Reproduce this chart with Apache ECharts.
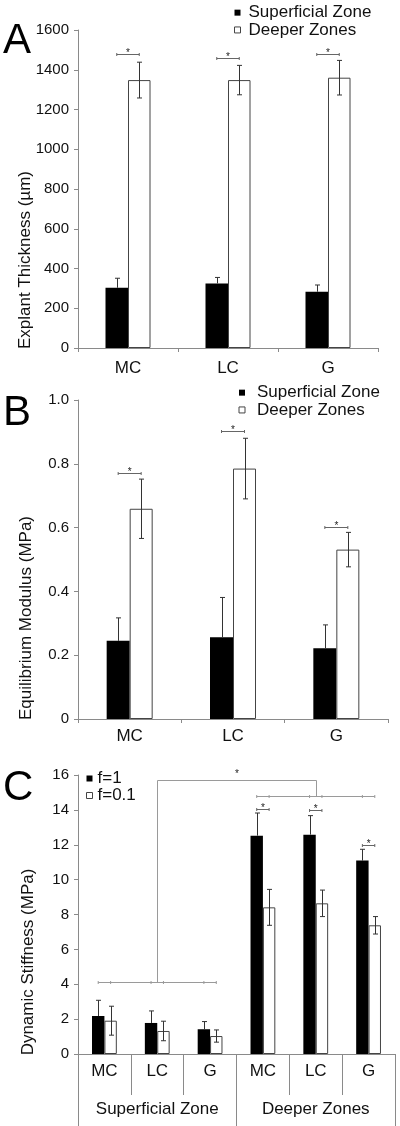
<!DOCTYPE html>
<html>
<head>
<meta charset="utf-8">
<script src="https://cdn.jsdelivr.net/npm/echarts@6/dist/echarts.min.js"></script>
<style>
html,body{margin:0;padding:0;background:#fff;}
#chart{width:400px;height:1126px;}
</style>
</head>
<body>
<div id="chart"></div>
<script>
// ---------- DATA ----------
const categoriesAB = ['MC', 'LC', 'G'];
// Panel A: Explant thickness (µm)
const thickSup = [303, 325, 283];
const thickSupErr = [48, 30, 34];
const thickDeep = [1348, 1348, 1360];
const thickDeepErr = [90, 74, 87];
const thickSig = [1477, 1459, 1479];
// Panel B: Equilibrium modulus (MPa)
const modSup = [0.245, 0.256, 0.222];
const modSupErr = [0.072, 0.125, 0.073];
const modDeep = [0.659, 0.785, 0.531];
const modDeepErr = [0.093, 0.095, 0.054];
const modSig = [0.770, 0.903, 0.603];
// Panel C: Dynamic stiffness (MPa)
const categoriesC = ['MC', 'LC', 'G', 'MC', 'LC', 'G'];
const groupsC = ['Superficial Zone', 'Deeper Zones'];
const stiffF1 = [2.18, 1.78, 1.42, 12.52, 12.58, 11.09];
const stiffF1Err = [0.90, 0.69, 0.44, 1.30, 1.09, 0.65];
const stiffF01 = [1.91, 1.32, 1.03, 8.41, 8.64, 7.38];
const stiffF01Err = [0.83, 0.56, 0.35, 1.03, 0.76, 0.50];
const stiffSig = [null, null, null, 14.05, 13.97, 11.99];
const groupBracketLevels = [4.11, 15.71, 14.8]; // superficial line, top line, deeper line

// ---------- STYLE ----------
const FONT = '"Liberation Sans", Arial, Helvetica, sans-serif';
const AXIS_COLOR = '#8a8a8a';
const TEXT_COLOR = '#111';
const BW = {A: 22.5, B: 23, C: 12.4};

function errData(vals, errs, side, full) {
  return vals.map((v, i) => [i, v, errs[i], side, full]);
}
function sigData(levels) {
  return levels.map((v, i) => v == null ? null : [i, v]).filter(d => d);
}
function line(x1, y1, x2, y2, color) {
  return {type: 'line', shape: {x1, y1, x2, y2}, style: {stroke: color, lineWidth: 1}, silent: true};
}
function errRender(barW) {
  return function (params, api) {
    const cat = api.value(0), v = api.value(1), e = api.value(2), side = api.value(3), full = api.value(4);
    const base = api.coord([cat, v]);
    const x = Math.round(base[0] + side * barW / 2) + 0.5;
    const yTop = api.coord([cat, v + e])[1];
    const yBot = full ? api.coord([cat, v - e])[1] : base[1];
    const cap = 2.5, c = '#333';
    const ch = [line(x, yTop, x, yBot, c), line(x - cap, yTop, x + cap, yTop, c)];
    if (full) ch.push(line(x - cap, yBot, x + cap, yBot, c));
    return {type: 'group', children: ch};
  };
}
function sigRender(barW) {
  return function (params, api) {
    const cat = api.value(0), v = api.value(1);
    const p = api.coord([cat, v]);
    const x1 = p[0] - barW / 2, x2 = p[0] + barW / 2, y = Math.round(p[1]) + 0.5;
    const c = '#666';
    return {type: 'group', children: [
      line(x1, y, x2, y, c), line(x1, y - 1.5, x1, y + 1.5, c), line(x2, y - 1.5, x2, y + 1.5, c),
      {type: 'text', x: p[0], y: y + 4, silent: true,
       style: {text: '*', font: '10px ' + FONT, fill: '#222', align: 'center', verticalAlign: 'bottom'}}
    ]};
  };
}
function groupBracketRender(params, api) {
  const bw = BW.C, c = '#9a9a9a';
  const ySup = Math.round(api.coord([0, api.value(1)])[1]) + 0.5;
  const yTop = Math.round(api.coord([0, api.value(2)])[1]) + 0.5;
  const yDeep = Math.round(api.coord([0, api.value(3)])[1]) + 0.5;
  const cx = i => api.coord([i, 0])[0];
  const supL = cx(0) - bw / 2, supR = cx(2) + bw / 2, supMid = Math.round((supL + supR) / 2) + 0.5;
  const dL = cx(3) - bw / 2, dR = cx(5) + bw / 2, dMid = Math.round((dL + dR) / 2) + 0.5;
  const ch = [
    line(supL, ySup, supR, ySup, c), line(supMid, ySup, supMid, yTop, c),
    line(supMid, yTop, dMid, yTop, c), line(dMid, yTop, dMid, yDeep, c),
    line(dL, yDeep, dR, yDeep, c)
  ];
  for (let i = 0; i < 6; i++) {
    const y = i < 3 ? ySup : yDeep;
    [cx(i) - bw / 2, cx(i) + bw / 2].forEach(x => ch.push(line(x, y - 1.5, x, y + 1.5, c)));
  }
  ch.push({type: 'text', x: (supMid + dMid) / 2, y: yTop - 1, silent: true,
    style: {text: '*', font: '10px ' + FONT, fill: '#222', align: 'center', verticalAlign: 'bottom'}});
  return {type: 'group', children: ch};
}

const baseX = (grid, data, margin) => ({
  gridIndex: grid, type: 'category', data: data,
  axisLine: {lineStyle: {color: AXIS_COLOR}},
  axisTick: {show: true, length: 4, interval: 0, lineStyle: {color: AXIS_COLOR}},
  axisLabel: {fontSize: 17, fontFamily: FONT, color: TEXT_COLOR, margin: margin, interval: 0},
  splitLine: {show: false}
});
const baseY = (grid, max, interval, fmt) => ({
  gridIndex: grid, type: 'value', min: 0, max: max, interval: interval,
  axisLine: {show: true, lineStyle: {color: AXIS_COLOR}},
  axisTick: {show: true, length: 4, lineStyle: {color: AXIS_COLOR}},
  axisLabel: {fontSize: 15, fontFamily: FONT, color: TEXT_COLOR, margin: 9, formatter: fmt},
  splitLine: {show: false}
});

const whiteBar = {color: '#fff', borderColor: '#444', borderWidth: 1};
const blackBar = {color: '#000'};
const legendText = (pad, lh) => ({fontSize: 17, fontFamily: FONT, color: TEXT_COLOR, lineHeight: lh, padding: [0, 0, 0, pad]});
const legendBase = {orient: 'vertical', padding: 0, itemWidth: 6, itemHeight: 6, itemGap: 0, selectedMode: false, icon: 'rect'};

const option = {
  animation: false,
  backgroundColor: '#fff',
  grid: [
    {left: 78, top: 30, width: 300, height: 318},
    {left: 78, top: 400, width: 310, height: 319},
    {left: 78, top: 775, width: 317, height: 279}
  ],
  legend: [
    Object.assign({}, legendBase, {left: 234, top: 4, textStyle: legendText(3, 17.3),
      data: [{name: 'Superficial Zone', itemStyle: blackBar}, {name: 'Deeper Zones', itemStyle: whiteBar}]}),
    Object.assign({}, legendBase, {left: 238.5, top: 384, textStyle: legendText(7, 17.3),
      data: [{name: 'Superficial Zone', itemStyle: blackBar}, {name: 'Deeper Zones', itemStyle: whiteBar}]}),
    Object.assign({}, legendBase, {left: 86, top: 770, textStyle: legendText(0, 16.3),
      data: [{name: 'f=1', itemStyle: blackBar}, {name: 'f=0.1', itemStyle: whiteBar}]})
  ],
  xAxis: [
    baseX(0, categoriesAB, 11.5),
    baseX(1, categoriesAB, 9),
    Object.assign(baseX(2, categoriesC, 9), {axisTick: {show: true, length: 41, interval: 0, lineStyle: {color: AXIS_COLOR}}}),
    {gridIndex: 2, type: 'category', data: groupsC, position: 'bottom', offset: 41,
     axisLine: {show: false},
     axisTick: {show: true, length: 31, interval: 0, lineStyle: {color: AXIS_COLOR}},
     axisLabel: {fontSize: 17, fontFamily: FONT, color: TEXT_COLOR, margin: 5.5, interval: 0},
     splitLine: {show: false}}
  ],
  yAxis: [
    baseY(0, 1600, 200, v => String(v)),
    baseY(1, 1.0, 0.2, v => v === 0 ? '0' : v.toFixed(1)),
    baseY(2, 16, 2, v => String(v))
  ],
  graphic: [
    {type: 'text', left: 3, top: 20, style: {text: 'A', font: '42px ' + FONT, fill: '#000'}},
    {type: 'text', left: 3, top: 392, style: {text: 'B', font: '42px ' + FONT, fill: '#000'}},
    {type: 'text', left: 3, top: 767, style: {text: 'C', font: '42px ' + FONT, fill: '#000'}},
    {type: 'text', x: 25, y: 260, rotation: Math.PI / 2,
     style: {text: 'Explant Thickness (µm)', font: '17px ' + FONT, fill: TEXT_COLOR, align: 'center', verticalAlign: 'middle'}},
    {type: 'text', x: 26, y: 618, rotation: Math.PI / 2,
     style: {text: 'Equilibrium Modulus (MPa)', font: '17px ' + FONT, fill: TEXT_COLOR, align: 'center', verticalAlign: 'middle'}},
    {type: 'text', x: 28, y: 962, rotation: Math.PI / 2,
     style: {text: 'Dynamic Stiffness (MPa)', font: '17px ' + FONT, fill: TEXT_COLOR, align: 'center', verticalAlign: 'middle'}}
  ],
  series: [
    // Panel A
    {name: 'Superficial Zone', type: 'bar', xAxisIndex: 0, yAxisIndex: 0, data: thickSup, barWidth: BW.A, barGap: '0%', itemStyle: blackBar},
    {name: 'Deeper Zones', type: 'bar', xAxisIndex: 0, yAxisIndex: 0, data: thickDeep, barWidth: BW.A, barGap: '0%', itemStyle: whiteBar},
    {name: 'errA1', type: 'custom', xAxisIndex: 0, yAxisIndex: 0, renderItem: errRender(BW.A), data: errData(thickSup, thickSupErr, -1, 0), z: 5, clip: false},
    {name: 'errA2', type: 'custom', xAxisIndex: 0, yAxisIndex: 0, renderItem: errRender(BW.A), data: errData(thickDeep, thickDeepErr, 1, 1), z: 5, clip: false},
    {name: 'sigA', type: 'custom', xAxisIndex: 0, yAxisIndex: 0, renderItem: sigRender(BW.A), data: sigData(thickSig), z: 5, clip: false},
    // Panel B
    {name: 'Superficial Zone', type: 'bar', xAxisIndex: 1, yAxisIndex: 1, data: modSup, barWidth: BW.B, barGap: '0%', itemStyle: blackBar},
    {name: 'Deeper Zones', type: 'bar', xAxisIndex: 1, yAxisIndex: 1, data: modDeep, barWidth: BW.B, barGap: '0%', itemStyle: whiteBar},
    {name: 'errB1', type: 'custom', xAxisIndex: 1, yAxisIndex: 1, renderItem: errRender(BW.B), data: errData(modSup, modSupErr, -1, 0), z: 5, clip: false},
    {name: 'errB2', type: 'custom', xAxisIndex: 1, yAxisIndex: 1, renderItem: errRender(BW.B), data: errData(modDeep, modDeepErr, 1, 1), z: 5, clip: false},
    {name: 'sigB', type: 'custom', xAxisIndex: 1, yAxisIndex: 1, renderItem: sigRender(BW.B), data: sigData(modSig), z: 5, clip: false},
    // Panel C
    {name: 'f=1', type: 'bar', xAxisIndex: 2, yAxisIndex: 2, data: stiffF1, barWidth: BW.C, barGap: '0%', itemStyle: blackBar},
    {name: 'f=0.1', type: 'bar', xAxisIndex: 2, yAxisIndex: 2, data: stiffF01, barWidth: BW.C, barGap: '0%', itemStyle: whiteBar},
    {name: 'errC1', type: 'custom', xAxisIndex: 2, yAxisIndex: 2, renderItem: errRender(BW.C), data: errData(stiffF1, stiffF1Err, -1, 0), z: 5, clip: false},
    {name: 'errC2', type: 'custom', xAxisIndex: 2, yAxisIndex: 2, renderItem: errRender(BW.C), data: errData(stiffF01, stiffF01Err, 1, 1), z: 5, clip: false},
    {name: 'sigC', type: 'custom', xAxisIndex: 2, yAxisIndex: 2, renderItem: sigRender(BW.C), data: sigData(stiffSig), z: 5, clip: false},
    {name: 'groupSig', type: 'custom', xAxisIndex: 2, yAxisIndex: 2, renderItem: groupBracketRender,
     data: [[0].concat(groupBracketLevels)], z: 5, clip: false}
  ]
};

const chart = echarts.init(document.getElementById('chart'), null, {renderer: 'canvas'});
chart.setOption(option);
</script>
</body>
</html>
